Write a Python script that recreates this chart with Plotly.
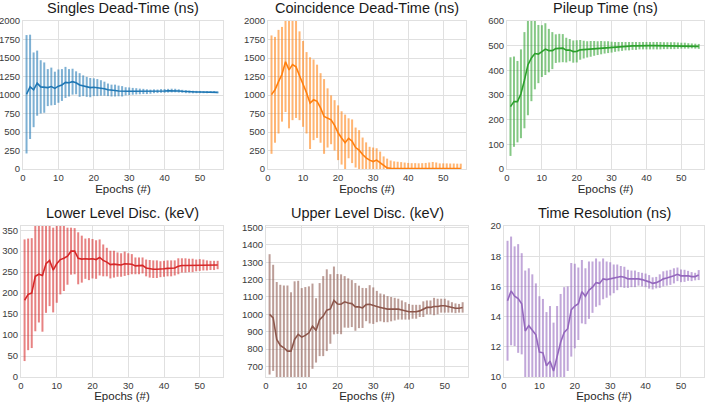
import plotly.graph_objects as go

epochs = list(range(1, 56))

titles = ["Singles Dead-Time (ns)", "Coincidence Dead-Time (ns)", "Pileup Time (ns)",
          "Lower Level Disc. (keV)", "Upper Level Disc. (keV)", "Time Resolution (ns)"]

singles_mean = [1010, 1110, 1070, 1160, 1110, 1100, 1100, 1115, 1090, 1120, 1135, 1170, 1165, 1180, 1165,
                1135, 1125, 1110, 1100, 1105, 1100, 1095, 1085, 1070, 1060, 1060, 1055, 1050, 1050, 1050,
                1050, 1050, 1048, 1048, 1045, 1045, 1050, 1050, 1055, 1055, 1058, 1060, 1060, 1055, 1050,
                1045, 1042, 1040, 1040, 1040, 1038, 1038, 1040, 1040, 1035]
singles_std = [800, 705, 505, 440, 360, 340, 250, 255, 225, 225, 215, 210, 185, 175, 155,
               160, 140, 135, 130, 120, 115, 105, 95, 85, 80, 80, 72, 70, 55, 52,
               46, 42, 38, 35, 32, 28, 26, 24, 25, 25, 25, 25, 24, 22, 20,
               20, 18, 17, 16, 15, 14, 14, 13, 13, 12]

coinc_mean = [1005, 1070, 1180, 1280, 1450, 1340, 1410, 1380, 1260, 1150, 1030, 890, 935, 915, 825,
              710, 690, 665, 590, 490, 420, 355, 415, 375, 290, 255, 195, 150, 120, 100,
              120, 85, 40, 15, 10, 8, 8, 8, 7, 7, 7, 7, 7, 7, 7,
              8, 10, 8, 6, 6, 6, 6, 6, 6, 6]
coinc_std = [800, 715, 700, 640, 680, 790, 750, 690, 600, 580, 550, 620, 545, 495, 470,
             505, 400, 330, 340, 370, 360, 380, 270, 295, 270, 270, 230, 210, 180, 190,
             160, 150, 130, 125, 105, 95, 90, 85, 80, 75, 72, 72, 70, 72, 75,
             80, 85, 80, 70, 70, 70, 68, 68, 66, 66]

pileup_mean = [253, 273, 273, 305, 360, 422, 450, 468, 466, 478, 486, 480, 480, 488, 490,
               490, 482, 482, 476, 477, 483, 484, 485, 487, 489, 490, 492, 493, 494, 494,
               495, 496, 497, 498, 498, 499, 499, 500, 500, 500, 500, 500, 500, 500, 500,
               500, 500, 500, 500, 500, 500, 499, 499, 498, 497]
pileup_std = [200, 183, 165, 180, 195, 204, 175, 145, 118, 105, 105, 88, 75, 58, 58,
              57, 50, 45, 45, 45, 40, 36, 33, 32, 30, 28, 27, 25, 24, 22,
              20, 19, 18, 17, 17, 16, 16, 15, 15, 15, 15, 15, 15, 15, 14,
              14, 14, 14, 13, 12, 12, 11, 10, 10, 10]

lld_mean = [183, 197, 200, 240, 245, 242, 270, 278, 255, 270, 280, 283, 288, 300, 300,
            283, 281, 282, 281, 282, 280, 285, 278, 274, 268, 269, 268, 267, 270, 269,
            269, 265, 265, 266, 260, 258, 257, 257, 257, 258, 259, 259, 260, 264, 266,
            266, 266, 266, 266, 267, 267, 266, 266, 266, 267]
lld_std = [145, 133, 131, 131, 115, 134, 117, 109, 101, 93, 83, 78, 68, 56, 55,
           62, 56, 48, 50, 47, 46, 43, 38, 34, 33, 32, 29, 28, 29, 26,
           24, 20, 20, 19, 20, 21, 21, 21, 19, 19, 19, 19, 18, 19, 17,
           17, 16, 16, 14, 14, 13, 12, 11, 11, 10]

uld_mean = [1000, 980, 856, 822, 808, 789, 789, 856, 885, 869, 879, 894, 932, 908, 970,
            990, 1024, 1031, 1080, 1060, 1058, 1072, 1065, 1062, 1043, 1043, 1037, 1056, 1058, 1050,
            1045, 1040, 1035, 1030, 1030, 1030, 1030, 1025, 1020, 1015, 1015, 1015, 1020, 1030, 1040,
            1040, 1045, 1045, 1050, 1050, 1045, 1040, 1035, 1035, 1040]
uld_std = [346, 305, 330, 348, 358, 377, 338, 334, 308, 282, 278, 267, 245, 185, 210,
           230, 235, 200, 195, 172, 172, 148, 142, 135, 137, 122, 115, 95, 110, 105,
           90, 80, 80, 75, 70, 65, 60, 55, 50, 45, 40, 40, 35, 45, 40,
           40, 50, 45, 40, 40, 35, 30, 28, 25, 30]

tres_mean = [15.05, 15.7, 15.35, 15.2, 14.85, 13.05, 13.4, 13.1, 12.8, 11.65, 11.6, 10.75, 11.05, 10.4, 11.4,
             12.3, 12.95, 13.2, 14.45, 14.7, 14.85, 15.65, 15.35, 15.75, 15.95, 16.25, 16.2, 16.5, 16.45, 16.5,
             16.5, 16.6, 16.65, 16.6, 16.5, 16.5, 16.5, 16.5, 16.45, 16.4, 16.3, 16.2, 16.25, 16.35, 16.5,
             16.55, 16.6, 16.7, 16.8, 16.7, 16.7, 16.7, 16.65, 16.65, 16.75]
tres_std = [3.97, 3.6, 3.3, 3.6, 3.35, 4.0, 3.8, 3.7, 3.4, 3.7, 3.57, 3.55, 3.65, 3.2, 3.3,
            3.2, 3.0, 2.8, 3.1, 2.8, 2.4, 2.1, 1.85, 1.9, 1.7, 1.6, 1.45, 1.35, 1.2, 1.1,
            0.95, 0.85, 0.7, 0.7, 0.6, 0.55, 0.55, 0.45, 0.45, 0.45, 0.45, 0.4, 0.38, 0.45, 0.5,
            0.5, 0.5, 0.5, 0.45, 0.42, 0.4, 0.33, 0.3, 0.25, 0.33]

means = [singles_mean, coinc_mean, pileup_mean, lld_mean, uld_mean, tres_mean]
stds = [singles_std, coinc_std, pileup_std, lld_std, uld_std, tres_std]
colors = ["#1f77b4", "#ff7f0e", "#2ca02c", "#d62728", "#8c564b", "#9467bd"]
yranges = [[0, 2000], [0, 2000], [0, 600], [0, 360], [640, 1508], [10, 20]]
ydticks = [250, 250, 100, 50, 100, 2]
yticks0 = [0, 0, 0, 0, 700, 10]

W, H = 708, 402
# pixel boxes (left, right, top, bottom)
boxes = [(23, 223, 21, 169), (268, 466, 21, 169), (507, 704, 21, 169),
         (21, 223, 226, 377), (266, 468, 226, 377), (504, 704, 226, 377)]


def hex2rgba(h, a):
    h = h.lstrip("#")
    return "rgba(%d,%d,%d,%.2f)" % (int(h[0:2], 16), int(h[2:4], 16), int(h[4:6], 16), a)


fig = go.Figure()
font_family = "Liberation Sans, Arial, sans-serif"
grid = "#e0e0e0"
for i in range(6):
    sfx = "" if i == 0 else str(i + 1)
    fig.add_trace(go.Scatter(
        x=epochs, y=means[i], mode="lines",
        line=dict(color=colors[i], width=1.6),
        error_y=dict(type="data", array=stds[i], visible=True,
                     color=hex2rgba(colors[i], 0.58), thickness=2, width=0),
        xaxis="x" + sfx, yaxis="y" + sfx, showlegend=False))
    l, r, t, b = boxes[i]
    fig.layout["xaxis" + sfx] = dict(
        domain=[l / W, r / W], anchor="y" + sfx, range=[0, 56.5], dtick=10, tick0=0,
        showgrid=True, gridcolor=grid, gridwidth=1, zeroline=False,
        showline=True, linecolor=grid, mirror=True, ticks="",
        tickfont=dict(size=9.5, color="#3a3a3a", family=font_family),
        title=dict(text="Epochs (#)", font=dict(size=11.5, color="#262626", family=font_family), standoff=2),
        automargin=False)
    fig.layout["yaxis" + sfx] = dict(
        domain=[1 - b / H, 1 - t / H], anchor="x" + sfx, range=yranges[i],
        dtick=ydticks[i], tick0=yticks0[i],
        showgrid=True, gridcolor=grid, gridwidth=1, zeroline=False,
        showline=True, linecolor=grid, mirror=True, ticks="",
        tickfont=dict(size=9.5, color="#3a3a3a", family=font_family), automargin=False)
    fig.add_annotation(text=titles[i], x=(l + r) / 2 / W, y=1 - (t - 3) / H,
                       xref="paper", yref="paper", xanchor="center", yanchor="bottom",
                       showarrow=False, font=dict(size=14.5, color="#1a1a1a", family=font_family))

fig.update_layout(width=W, height=H, margin=dict(l=0, r=0, t=0, b=0),
                  paper_bgcolor="white", plot_bgcolor="white",
                  font=dict(family=font_family))
fig.write_html("out.html", config={"displayModeBar": False},
               post_script="document.body.style.margin='0';document.body.style.padding='0';")
